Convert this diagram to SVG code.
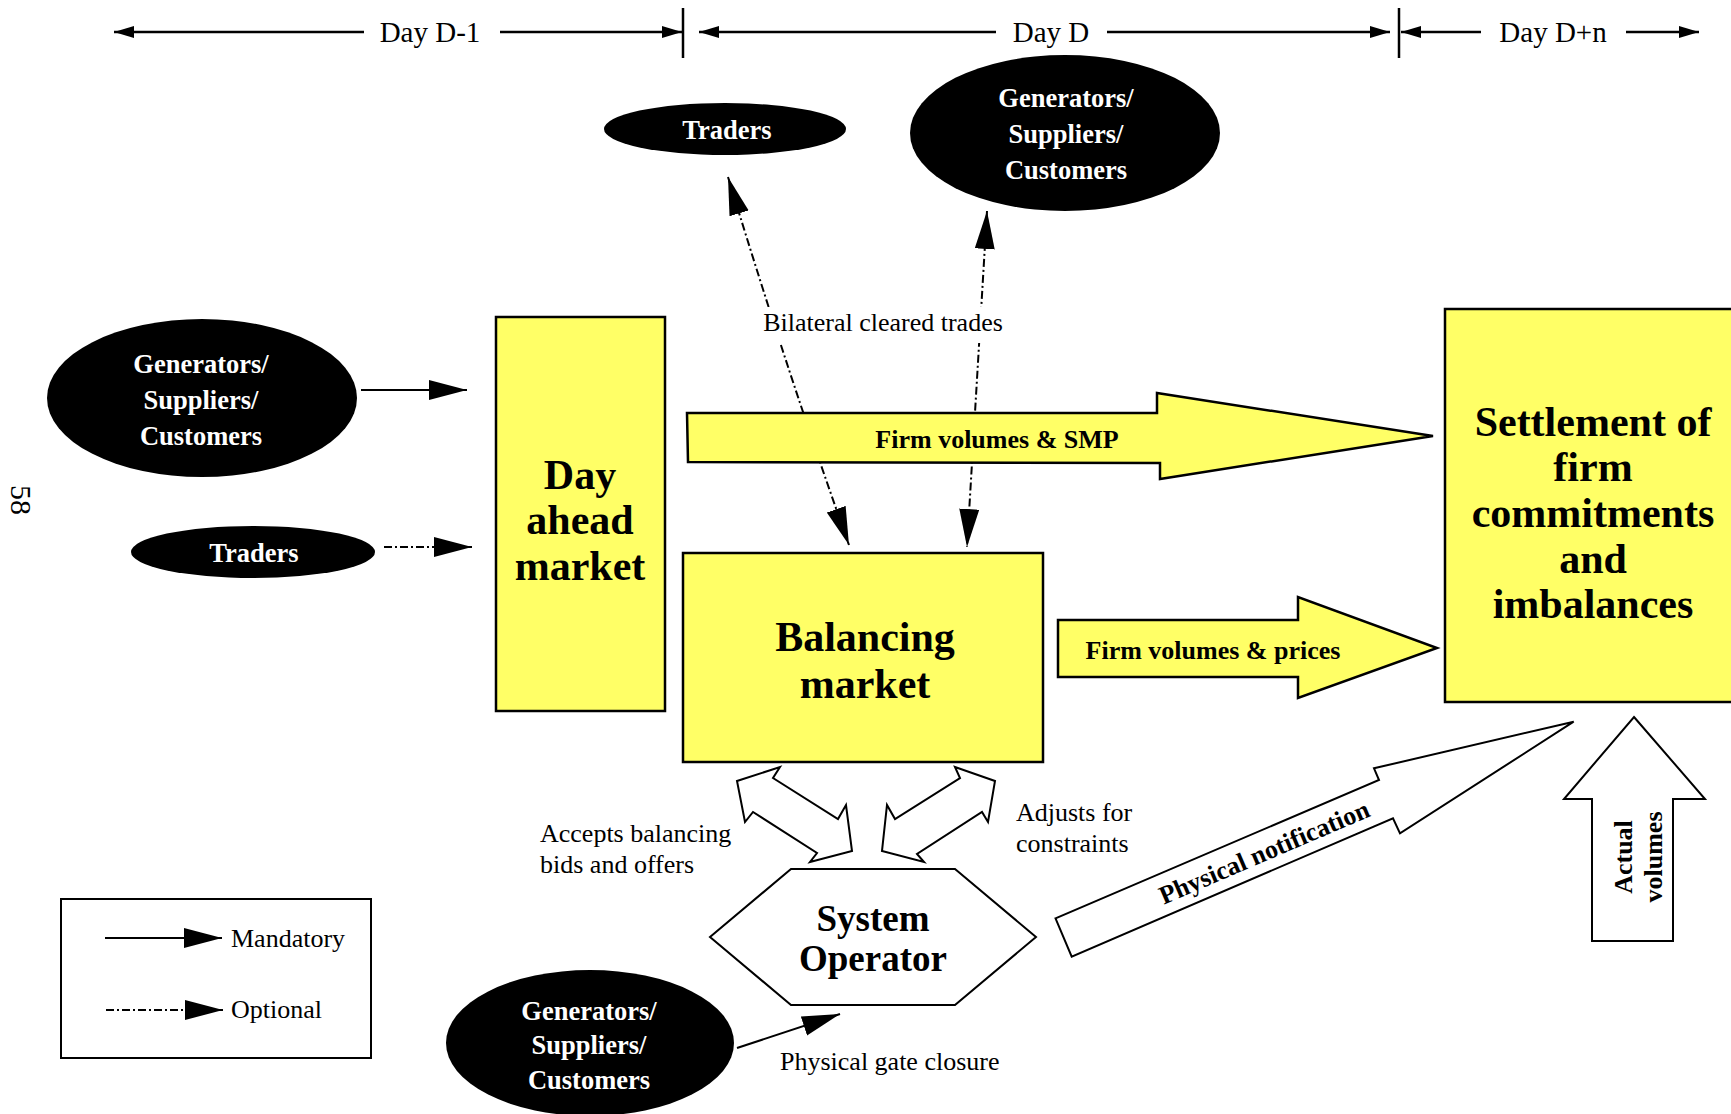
<svg xmlns="http://www.w3.org/2000/svg" width="1731" height="1114" viewBox="0 0 1731 1114">
  <defs>
    <!-- small head for the time axis -->
    <marker id="tick" markerUnits="userSpaceOnUse" markerWidth="22" markerHeight="14" refX="20" refY="6" orient="auto-start-reverse">
      <path d="M0,0 L20,6 L0,12 z" fill="#000"/>
    </marker>
    <!-- flow arrowhead -->
    <marker id="head" markerUnits="userSpaceOnUse" markerWidth="40" markerHeight="22" refX="38" refY="10" orient="auto-start-reverse">
      <path d="M0,0 L38,10 L0,20 z" fill="#000"/>
    </marker>
  </defs>
  <style>
    text { font-family: "Liberation Serif", "Times New Roman", serif; fill: #000; }
    .lbl { font-size: 26px; }
    .tl { font-size: 29px; text-anchor: middle; }
    .wtxt { fill: #fff; font-weight: bold; font-size: 26.5px; text-anchor: middle; }
    .btxt { font-weight: bold; font-size: 26px; text-anchor: middle; }
    .big { font-weight: bold; font-size: 42px; text-anchor: middle; }
    .dark { fill: #000; }
    .box { fill: #ffff66; stroke: #000; stroke-width: 2.5; }
    .line { stroke: #000; stroke-width: 2; fill: none; }
    .opt { stroke-dasharray: 8 3 2 3; }
    .blk { fill: #fff; stroke: #000; stroke-width: 2; stroke-linejoin: miter; }
    .ylw { fill: #ffff66; stroke: #000; stroke-width: 2.5; stroke-linejoin: miter; }
  </style>

  <rect width="1731" height="1114" fill="#fff"/>

  <!-- time axis -->
  <g id="timeline">
    <g class="line" style="stroke-width:2.5">
      <line x1="114" y1="32" x2="364" y2="32" marker-start="url(#tick)"/>
      <line x1="500" y1="32" x2="682" y2="32" marker-end="url(#tick)"/>
      <line x1="683" y1="8" x2="683" y2="58"/>
      <line x1="699" y1="32" x2="996" y2="32" marker-start="url(#tick)"/>
      <line x1="1107" y1="32" x2="1390" y2="32" marker-end="url(#tick)"/>
      <line x1="1399" y1="8" x2="1399" y2="58"/>
      <line x1="1401" y1="32" x2="1481" y2="32" marker-start="url(#tick)"/>
      <line x1="1626" y1="32" x2="1699" y2="32" marker-end="url(#tick)"/>
    </g>
    <text class="tl" x="430" y="42">Day D-1</text>
    <text class="tl" x="1051" y="42">Day D</text>
    <text class="tl" x="1553" y="42">Day D+n</text>
  </g>

  <!-- page number -->
  <text class="lbl" style="font-size:30px" text-anchor="middle" transform="translate(11,500) rotate(90)">58</text>

  <!-- connectors -->
  <g id="connectors">
    <line class="line" x1="361" y1="390" x2="467" y2="390" marker-end="url(#head)"/>
    <line class="line opt" x1="384" y1="547" x2="472" y2="547" marker-end="url(#head)"/>
    <path class="line opt" d="M728,177 Q790,380 849,545" marker-start="url(#head)" marker-end="url(#head)"/>
    <line class="line opt" x1="987" y1="211" x2="967" y2="547" marker-start="url(#head)" marker-end="url(#head)"/>
    <line class="line" x1="737" y1="1048" x2="840" y2="1014" marker-end="url(#head)"/>
    <rect x="757" y="307" width="252" height="36" fill="#fff"/>
    <text class="lbl" x="883" y="331" text-anchor="middle">Bilateral cleared trades</text>
    <text class="lbl" x="780" y="1070">Physical gate closure</text>
  </g>

  <!-- block arrows -->
  <g id="flow-smp">
    <polygon class="ylw" points="687,413 1157,413 1157,393 1433,436 1160,479 1160,463 688,462"/>
    <text class="btxt" x="997" y="448">Firm volumes &amp; SMP</text>
  </g>
  <g id="flow-prices">
    <polygon class="ylw" points="1058,620 1298,620 1298,597 1437,648 1298,698 1298,677 1058,677"/>
    <text class="btxt" x="1213" y="659">Firm volumes &amp; prices</text>
  </g>
  <g id="flow-accepts">
    <polygon class="blk" points="780,767 773,778 838,819 846,805 852,851 810,862 817,853 753,812 745,822 737,781"/>
    <text class="lbl" x="540" y="842">Accepts balancing</text>
    <text class="lbl" x="540" y="873">bids and offers</text>
  </g>
  <g id="flow-adjusts">
    <polygon class="blk" points="955,767 960,778 895,819 887,805 882,851 924,862 917,854 982,812 988,822 995,781"/>
    <text class="lbl" x="1016" y="821">Adjusts for</text>
    <text class="lbl" x="1016" y="852">constraints</text>
  </g>
  <g id="flow-notification">
    <polygon class="blk" points="1055.5,918.3 1379,780 1374,768.3 1573.7,721.7 1400,833.3 1393,818.3 1071.7,956.7"/>
    <text class="btxt" transform="translate(1264,852) rotate(-23.2)" y="9">Physical notification</text>
  </g>
  <g id="flow-actual">
    <polygon class="blk" points="1634,717 1705,799 1673,799 1673,941 1592,941 1592,799 1564,799"/>
    <text class="btxt" transform="translate(1632,857) rotate(-90)">Actual</text>
    <text class="btxt" transform="translate(1662,857) rotate(-90)">volumes</text>
  </g>

  <!-- participants -->
  <g id="traders-top">
    <ellipse class="dark" cx="725" cy="129" rx="121" ry="26"/>
    <text class="wtxt" x="727" y="139">Traders</text>
  </g>
  <g id="gsc-top">
    <ellipse class="dark" cx="1065" cy="133" rx="155" ry="78"/>
    <text class="wtxt" x="1066" y="107">Generators/</text>
    <text class="wtxt" x="1066" y="143">Suppliers/</text>
    <text class="wtxt" x="1066" y="179">Customers</text>
  </g>
  <g id="gsc-left">
    <ellipse class="dark" cx="202" cy="398" rx="155" ry="79"/>
    <text class="wtxt" x="201" y="373">Generators/</text>
    <text class="wtxt" x="201" y="409">Suppliers/</text>
    <text class="wtxt" x="201" y="445">Customers</text>
  </g>
  <g id="traders-left">
    <ellipse class="dark" cx="253" cy="552" rx="122" ry="26"/>
    <text class="wtxt" x="254" y="562">Traders</text>
  </g>
  <g id="gsc-bottom">
    <ellipse class="dark" cx="590" cy="1043" rx="144" ry="73"/>
    <text class="wtxt" x="589" y="1020">Generators/</text>
    <text class="wtxt" x="589" y="1054">Suppliers/</text>
    <text class="wtxt" x="589" y="1089">Customers</text>
  </g>

  <!-- markets -->
  <g id="day-ahead">
    <rect class="box" x="496" y="317" width="169" height="394"/>
    <text class="big" x="580" y="489">Day</text>
    <text class="big" x="580" y="534">ahead</text>
    <text class="big" x="580" y="580">market</text>
  </g>
  <g id="balancing">
    <rect class="box" x="683" y="553" width="360" height="209"/>
    <text class="big" x="865" y="651">Balancing</text>
    <text class="big" x="865" y="698">market</text>
  </g>
  <g id="settlement">
    <rect class="box" x="1445" y="309" width="300" height="393"/>
    <text class="big" x="1593" y="436">Settlement of</text>
    <text class="big" x="1593" y="481">firm</text>
    <text class="big" x="1593" y="527">commitments</text>
    <text class="big" x="1593" y="573">and</text>
    <text class="big" x="1593" y="618">imbalances</text>
  </g>
  <g id="system-operator">
    <polygon class="blk" points="710,937 791,869 955,869 1036,937 955,1005 791,1005"/>
    <text class="big" style="font-size:37px" x="873" y="931">System</text>
    <text class="big" style="font-size:37px" x="873" y="971">Operator</text>
  </g>

  <!-- key -->
  <g id="legend">
    <rect x="61" y="899" width="310" height="159" fill="#fff" stroke="#000" stroke-width="2"/>
    <line class="line" x1="105" y1="938" x2="222" y2="938" marker-end="url(#head)"/>
    <text class="lbl" x="231" y="947">Mandatory</text>
    <line class="line opt" x1="106" y1="1010" x2="223" y2="1010" marker-end="url(#head)"/>
    <text class="lbl" x="231" y="1018">Optional</text>
  </g>
</svg>
